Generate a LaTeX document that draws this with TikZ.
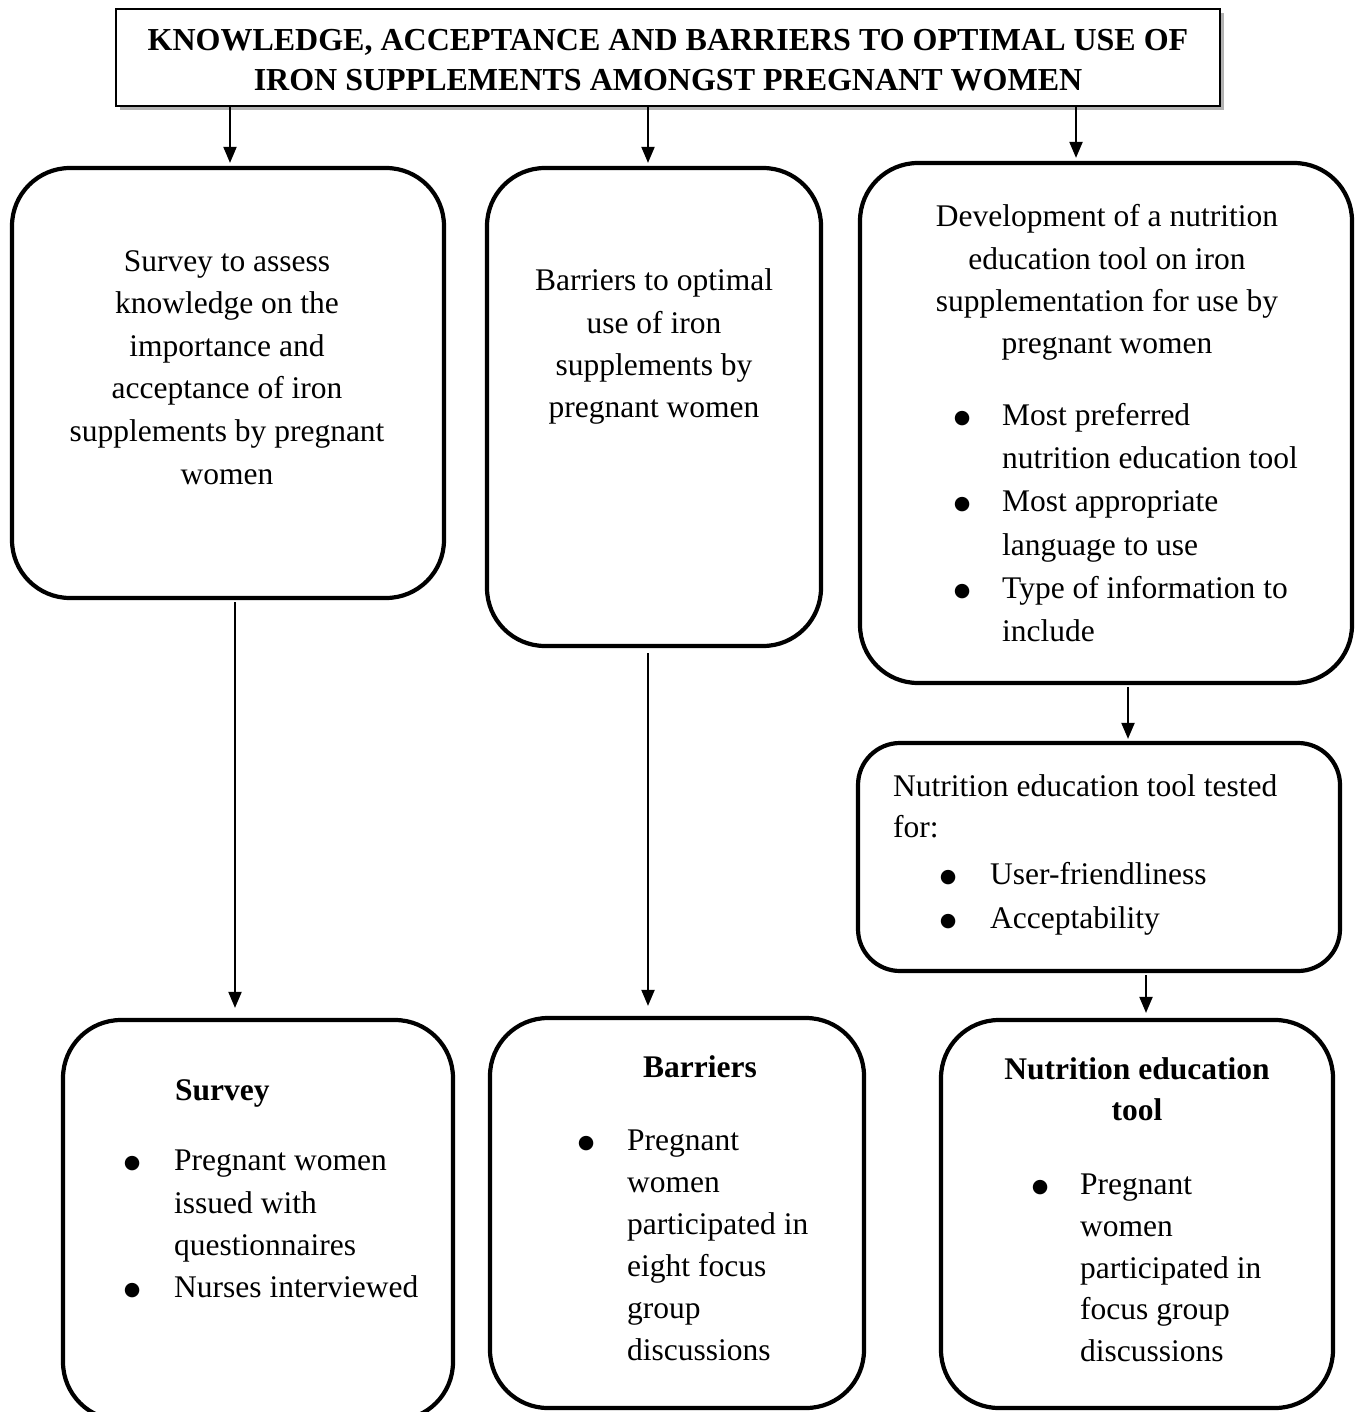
\documentclass[tikz,border=0pt]{standalone}
\usepackage{fontspec}
\setmainfont{Liberation Serif}[BoldFont={Liberation Serif Bold}]
\newfontfamily\dejavu{DejaVu Sans}
\usetikzlibrary{arrows.meta,shadows}
\newcommand\bodyfont[1]{\fontsize{31.5}{#1}\selectfont}
\newcommand\bul{{\dejavu\fontsize{19}{19}\selectfont ●}}
\newcommand\bitem[1]{\makebox[#1][l]{\makebox[0pt][c]{\raisebox{2pt}{\bul}}}}
\tikzset{
  rbox/.style={draw=black, line width=4.2pt, rounded corners=58pt, inner sep=0pt, fill=white},
  txt/.style={inner sep=0pt, anchor=north, font=\bodyfont{42.5}},
  arr/.style={line width=2pt, -{Triangle[width=13pt,length=16pt]}},
}
\begin{document}
\begin{tikzpicture}[x=1pt,y=-1pt]
\useasboundingbox (0,0) rectangle (1359,1412);
\clip (0,0) rectangle (1359,1412);
\fill[white] (0,0) rectangle (1359,1412);

% title
\node[draw=black, line width=1.3pt, fill=white, minimum width=1104pt, minimum height=97pt, inner sep=0pt,
      drop shadow={shadow xshift=4pt, shadow yshift=-4pt, fill=black!50, opacity=0.6}] (T) at (668,57.5) {};
\node[inner sep=0pt, anchor=north, align=center, font=\fontsize{32}{40}\selectfont\bfseries] (Tt) at (668,22)
  {\strut KNOWLEDGE, ACCEPTANCE AND BARRIERS TO OPTIMAL USE OF\\IRON SUPPLEMENTS AMONGST PREGNANT WOMEN};

% boxes
\node[rbox, minimum width=432pt, minimum height=430pt] (A) at (228,383) {};
\node[rbox, minimum width=334pt, minimum height=478pt] (B) at (654,407) {};
\node[rbox, minimum width=492pt, minimum height=520pt] (C) at (1106,423) {};
\node[rbox, rounded corners=42pt, minimum width=482pt, minimum height=228pt] (D) at (1099,857) {};
\node[rbox, minimum width=390pt, minimum height=400pt] (E) at (258,1220) {};
\node[rbox, minimum width=374pt, minimum height=390pt] (F) at (677,1213) {};
\node[rbox, minimum width=392pt, minimum height=388pt] (G) at (1137,1214) {};

% box A text
\node[txt, align=center, font=\bodyfont{42.6}] (At) at (227,241)
  {\strut Survey to assess\\knowledge on the\\importance and\\acceptance of iron\\supplements by pregnant\\women};
% box B text
\node[txt, align=center, font=\bodyfont{42.3}] (Bt) at (654,261)
  {\strut Barriers to optimal\\use of iron\\supplements by\\pregnant women};
% box C text
\node[txt, align=center, font=\bodyfont{42.3}] (Ct) at (1107,197)
  {\strut Development of a nutrition\\education tool on iron\\supplementation for use by\\pregnant women};
\node[txt, anchor=north west, font=\bodyfont{43.2}] (Cl) at (962,395)
  {\begin{tabular}{@{}l@{}l@{}}
   \bitem{40pt} & Most preferred\\
    & nutrition education tool\\
   \bitem{40pt} & Most appropriate\\
    & language to use\\
   \bitem{40pt} & Type of information to\\
    & include
   \end{tabular}};
% box D text
\node[txt, anchor=north west, align=left, font=\bodyfont{41}] (Dt) at (893,768)
  {\strut Nutrition education tool tested\\for:};
\node[txt, anchor=north west, font=\bodyfont{44}] (Dl) at (948,853)
  {\begin{tabular}{@{}l@{}l@{}}
   \bitem{42pt} & User-friendliness\\
   \bitem{42pt} & Acceptability
   \end{tabular}};
% box E text
\node[txt, anchor=north west, font=\bodyfont{42.5}\bfseries] (Et) at (175,1071) {\strut Survey};
\node[txt, anchor=north west, font=\bodyfont{42.3}] (El) at (132,1141)
  {\begin{tabular}{@{}l@{}l@{}}
   \bitem{42pt} & Pregnant women\\
    & issued with\\
    & questionnaires\\
   \bitem{42pt} & Nurses interviewed
   \end{tabular}};
% box F text
\node[txt, font=\bodyfont{42.5}\bfseries] (Ft) at (700,1048) {\strut Barriers};
\node[txt, anchor=north west, font=\bodyfont{42}] (Fl) at (586,1121)
  {\begin{tabular}{@{}l@{}l@{}}
   \bitem{41pt} & Pregnant\\
    & women\\
    & participated in\\
    & eight focus\\
    & group\\
    & discussions
   \end{tabular}};
% box G text
\node[txt, align=center, font=\bodyfont{41}\bfseries] (Gt) at (1137,1051) {\strut Nutrition education\\tool};
\node[txt, anchor=north west, font=\bodyfont{41.8}] (Gl) at (1040,1165)
  {\begin{tabular}{@{}l@{}l@{}}
   \bitem{40pt} & Pregnant\\
    & women\\
    & participated in\\
    & focus group\\
    & discussions
   \end{tabular}};

% connectors
\coordinate (xa) at (230,0);
\coordinate (xb) at (648,0);
\coordinate (xc) at (1076,0);
\coordinate (xe) at (235,0);
\coordinate (xd) at (1128,0);
\coordinate (xg) at (1146,0);
\draw[arr, shorten >=3pt] (T.south -| xa) -- (A.north -| xa);
\draw[arr, shorten >=3pt] (T.south -| xb) -- (B.north -| xb);
\draw[arr, shorten >=3pt] (T.south -| xc) -- (C.north -| xc);
\draw[arr, shorten <=2pt, shorten >=10pt] (A.south -| xe) -- (E.north -| xe);
\draw[arr, shorten <=5pt, shorten >=10pt] (B.south -| xb) -- (F.north -| xb);
\draw[arr, shorten <=2pt, shorten >=2pt] (C.south -| xd) -- (D.north -| xd);
\draw[arr, shorten <=2pt, shorten >=5pt] (D.south -| xg) -- (G.north -| xg);
\end{tikzpicture}
\end{document}
